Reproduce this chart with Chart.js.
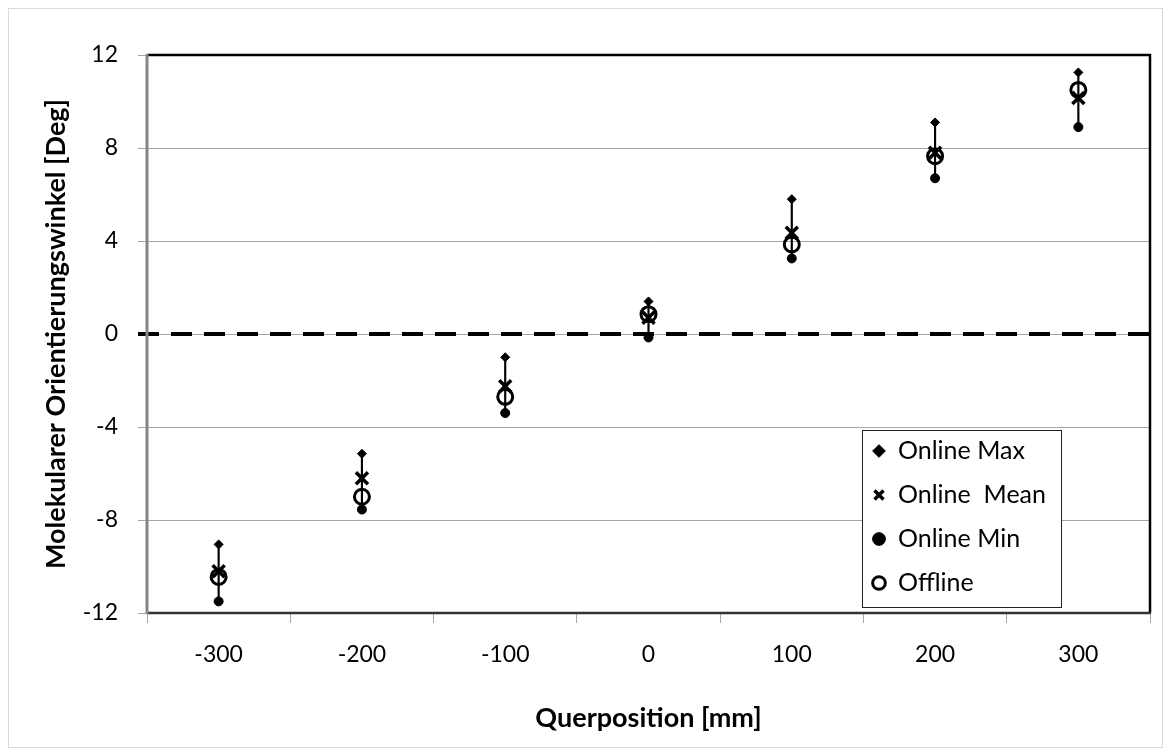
<!DOCTYPE html>
<html>
<head>
<meta charset="utf-8">
<script src="https://cdn.jsdelivr.net/npm/chart.js@4.4.1/dist/chart.umd.min.js"></script>
<style>
  html, body { margin: 0; padding: 0; background: #fff; }
</style>
</head>
<body>
<canvas id="myChart" width="1171" height="756"></canvas>
<script>
// Querposition [mm] und Orientierungswinkel [Deg]
const positions = ['-300', '-200', '-100', '0', '100', '200', '300'];
const onlineMax  = [-9.05, -5.15, -1.0, 1.4, 5.8, 9.1, 11.25];
const onlineMean = [-10.2, -6.2, -2.25, 0.7, 4.35, 7.8, 10.15];
const onlineMin  = [-11.5, -7.55, -3.4, -0.15, 3.25, 6.7, 8.9];
const offline    = [-10.45, -7.0, -2.7, 0.85, 3.85, 7.65, 10.5];
const yTicks = [-12, -8, -4, 0, 4, 8, 12];

const FONT = 'Lato';
Chart.defaults.font.family = FONT;
Chart.defaults.color = '#000';

// high-low line between min and max
const spans = positions.map(function (p, i) { return [onlineMin[i], onlineMax[i]]; });

function pointSet(label, data, style, radius, fill, width) {
    return {
        type: 'line',
        label: label,
        data: data,
        showLine: false,
        pointStyle: style,
        pointRadius: radius,
        pointHoverRadius: radius,
        pointBackgroundColor: fill,
        pointBorderColor: '#000',
        pointBorderWidth: width,
        backgroundColor: fill,
        borderColor: '#000',
        borderWidth: width
    };
}

const extras = {
    id: 'extras',
    beforeDraw(chart) {
        const c = chart.ctx;
        c.save();
        c.fillStyle = '#fff';
        c.fillRect(0, 0, chart.width, chart.height);
        c.strokeStyle = '#d9d9d9';
        c.lineWidth = 1;
        c.strokeRect(8.5, 8.5, chart.width - 17, chart.height - 17);
        c.restore();
    },
    afterLayout(chart) {
        // move the legend into the lower right corner of the plot
        const a = chart.chartArea, lg = chart.legend;
        const dx = (a.right - 288 - 8.5) - lg.left;
        const dy = (a.bottom - 183 - 10.5) - lg.top;
        lg.left += dx; lg.right += dx;
        lg.top += dy; lg.bottom += dy;
    },
    beforeDatasetsDraw(chart) {
        const c = chart.ctx, a = chart.chartArea;
        const y0 = chart.scales.y.getPixelForValue(0);
        c.save();
        // dashed zero line
        c.strokeStyle = '#000';
        c.lineWidth = 4;
        c.setLineDash([21, 12]);
        c.beginPath();
        c.moveTo(a.left - 9, y0);
        c.lineTo(a.right, y0);
        c.stroke();
        c.setLineDash([]);
        // plot frame
        c.lineWidth = 2.5;
        c.strokeStyle = '#000';
        c.beginPath();
        c.moveTo(a.left, a.top);
        c.lineTo(a.right, a.top);
        c.lineTo(a.right, a.bottom);
        c.stroke();
        c.strokeStyle = '#333';
        c.lineWidth = 2.5;
        c.beginPath();
        c.moveTo(a.left, a.bottom);
        c.lineTo(a.right + 1, a.bottom);
        c.stroke();
        c.strokeStyle = '#858585';
        c.lineWidth = 3;
        c.beginPath();
        c.moveTo(a.left, a.top - 1);
        c.lineTo(a.left, a.bottom + 1);
        c.stroke();
        c.restore();
    },
    afterDatasetsDraw(chart) {
        const c = chart.ctx, a = chart.chartArea;
        const x = a.right - 288, y = a.bottom - 183;
        c.save();
        c.fillStyle = '#fff';
        c.fillRect(x, y, 199, 177);
        c.strokeStyle = '#222';
        c.lineWidth = 1;
        c.strokeRect(x + 0.5, y + 0.5, 199, 177);
        c.restore();
        chart.legend.draw();
    }
};

const ctx = document.getElementById('myChart');

new Chart(ctx, {
    type: 'line',
    data: {
        labels: positions,
        datasets: [
            pointSet('Online Max', onlineMax, 'rectRot', 4.5, '#000', 1),
            pointSet('Online  Mean', onlineMean, 'crossRot', 8.5, '#000', 3.5),
            pointSet('Online Min', onlineMin, 'circle', 4.5, '#000', 1),
            pointSet('Offline', offline, 'circle', 7.5, 'rgba(0,0,0,0)', 3),
            {
                type: 'bar',
                label: '',
                data: spans,
                backgroundColor: '#000',
                borderWidth: 0,
                barThickness: 1.5
            }
        ]
    },
    options: {
        responsive: false,
        animation: false,
        events: [],
        layout: { padding: { left: 0, top: 55, right: 21, bottom: 0 } },
        plugins: {
            tooltip: { enabled: false },
            legend: {
                position: 'chartArea',
                align: 'start',
                labels: {
                    usePointStyle: true,
                    boxWidth: 13,
                    boxHeight: 9,
                    padding: 19,
                    color: '#000',
                    font: { family: FONT, size: 25 },
                    filter: function (item) { return item.text !== ''; }
                }
            }
        },
        scales: {
            x: {
                offset: true,
                afterFit: function (s) { s.height = 143; },
                grid: {
                    offset: true,
                    drawOnChartArea: false,
                    drawTicks: true,
                    tickLength: 10,
                    color: '#a6a6a6'
                },
                border: { display: false },
                ticks: { padding: 18, font: { size: 23 } },
                title: {
                    display: true,
                    text: 'Querposition [mm]',
                    font: { size: 27, weight: 'bold' },
                    padding: { top: 0, bottom: 22 }
                }
            },
            y: {
                min: -12,
                max: 12,
                afterFit: function (s) { s.width = 147; },
                afterBuildTicks: function (s) { s.ticks = yTicks.map(function (v) { return { value: v }; }); },
                grid: {
                    color: '#a6a6a6',
                    tickLength: 9
                },
                border: { display: false },
                ticks: { padding: 20, font: { size: 23 } },
                title: {
                    display: true,
                    text: 'Molekularer Orientierungswinkel [Deg]',
                    font: { size: 27, weight: 'bold' },
                    padding: { top: 40, bottom: 0 }
                }
            }
        }
    },
    plugins: [extras]
});
</script>
</body>
</html>
